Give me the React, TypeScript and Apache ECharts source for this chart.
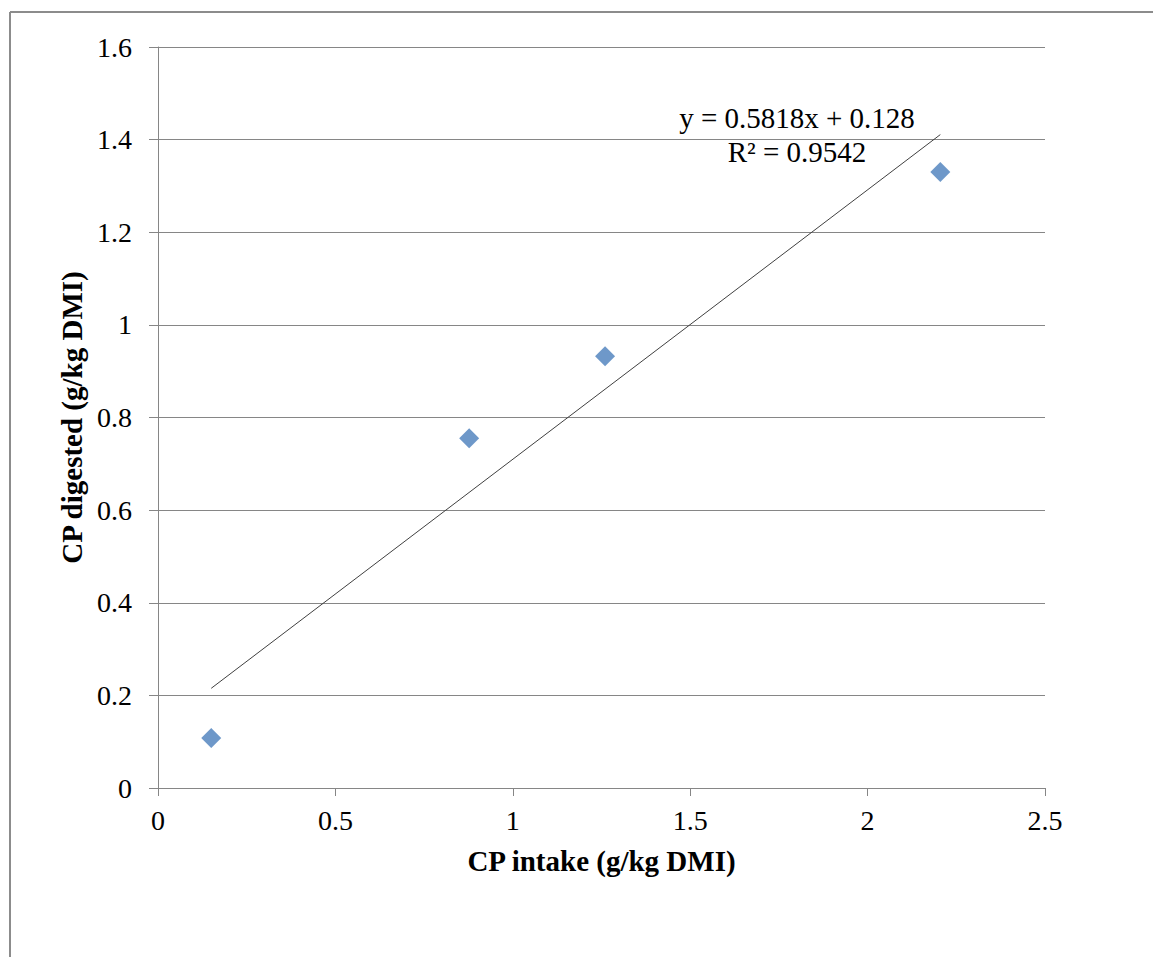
import React, { useEffect, useRef } from "react";
import * as echarts from "echarts";

const intake = [0.15, 0.877, 1.26, 2.205];
const digested = [0.108, 0.755, 0.932, 1.33];
const slope = 0.5818;
const intercept = 0.128;
const eqText = "y = 0.5818x + 0.128";
const r2Text = "R\u00B2 = 0.9542";
const xTitle = "CP intake (g/kg DMI)";
const yTitle = "CP digested (g/kg DMI)";

export default function App() {
  const ref = useRef<HTMLDivElement>(null);
  useEffect(() => {
    const chart = echarts.init(ref.current!, null, { renderer: "svg" });
    const pts = intake.map((x, i) => [x, digested[i]]);
    const xMin = Math.min(...intake);
    const xMax = Math.max(...intake);
    const trend = [
      [xMin, slope * xMin + intercept],
      [xMax, slope * xMax + intercept],
    ];
    const font = "'Liberation Serif', 'Times New Roman', serif";
    chart.setOption({
      animation: false,
      backgroundColor: "#fff",
      textStyle: { fontFamily: font },
      grid: { left: 158, right: 108, top: 47, bottom: 169, containLabel: false },
      xAxis: {
        type: "value",
        min: 0,
        max: 2.5,
        interval: 0.5,
        name: xTitle,
        nameLocation: "middle",
        nameGap: 58,
        nameTextStyle: { fontFamily: font, fontWeight: "bold", fontSize: 29, color: "#000" },
        axisLine: { show: true, lineStyle: { color: "#868686", width: 1 } },
        axisTick: { show: true, length: 8, inside: false, lineStyle: { color: "#868686" } },
        axisLabel: { fontFamily: font, fontSize: 28, color: "#000", margin: 18 },
        splitLine: { show: false },
      },
      yAxis: {
        type: "value",
        min: 0,
        max: 1.6,
        interval: 0.2,
        name: yTitle,
        nameLocation: "middle",
        nameGap: 71,
        nameRotate: 90,
        nameTextStyle: { fontFamily: font, fontWeight: "bold", fontSize: 29, color: "#000" },
        axisLine: { show: true, lineStyle: { color: "#868686", width: 1 } },
        axisTick: { show: true, length: 9, inside: false, lineStyle: { color: "#868686" } },
        axisLabel: {
          fontFamily: font,
          fontSize: 28,
          color: "#000",
          margin: 26,
          formatter: (v: number) => String(parseFloat(v.toFixed(1))),
        },
        splitLine: { show: true, lineStyle: { color: "#868686", width: 1 } },
      },
      series: [
        {
          type: "line",
          data: trend,
          symbol: "none",
          lineStyle: { color: "#404040", width: 1 },
          silent: true,
          z: 2,
        },
        {
          type: "scatter",
          data: pts,
          symbol: "diamond",
          symbolSize: [20, 20],
          itemStyle: { color: "#4a7ebb" },
          z: 3,
        },
      ],
      graphic: [
        { type: "line", shape: { x1: 10, y1: 12, x2: 1153, y2: 12 }, style: { stroke: "#8c8c8c", lineWidth: 2 } },
        { type: "line", shape: { x1: 10, y1: 12, x2: 10, y2: 957 }, style: { stroke: "#8c8c8c", lineWidth: 2 } },
        {
          type: "text",
          x: 797,
          y: 118,
          style: { text: eqText, font: `29px ${font}`, fill: "#000", textAlign: "center", textVerticalAlign: "middle" },
        },
        {
          type: "text",
          x: 797,
          y: 152,
          style: { text: r2Text, font: `29px ${font}`, fill: "#000", textAlign: "center", textVerticalAlign: "middle" },
        },
      ],
    });
    return () => chart.dispose();
  }, []);
  return (
    <div
      ref={ref}
      style={{ position: "fixed", left: 0, top: 0, width: 1153, height: 957 }}
    />
  );
}
